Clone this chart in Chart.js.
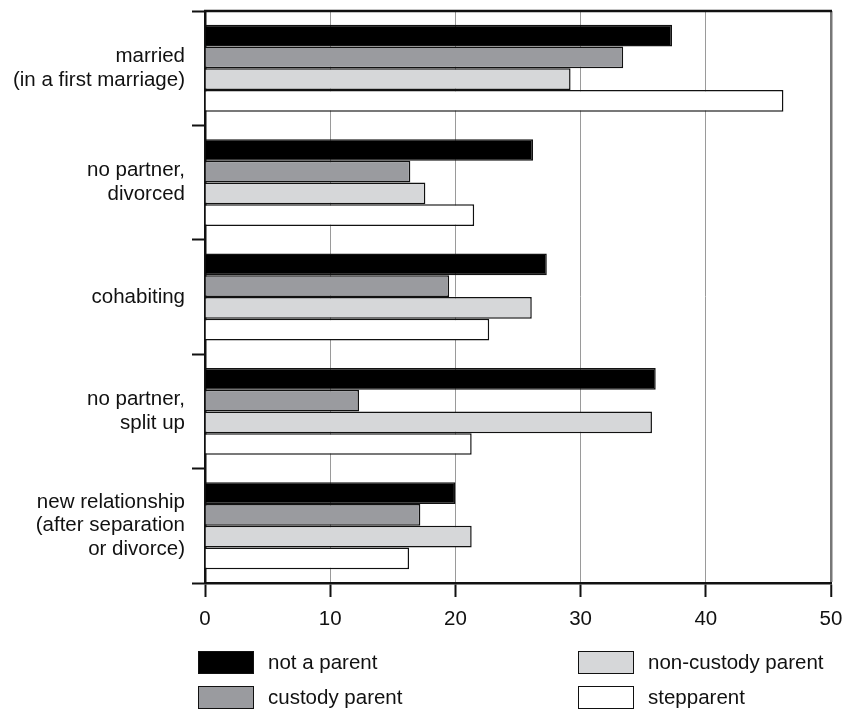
<!DOCTYPE html>
<html>
<head>
<meta charset="utf-8">
<script src="https://cdn.jsdelivr.net/npm/chart.js@4"></script>
<style>
  html, body { margin: 0; padding: 0; background: #fff; }
  #wrap { position: relative; width: 842px; height: 709px; }
  #legend { position: absolute; left: 0; top: 0; width: 842px; height: 709px; pointer-events: none;
            font-family: 'Liberation Sans', Arial, sans-serif; font-size: 20.5px; color: #111; }
  .item { position: absolute; display: flex; align-items: center; }
  .box { width: 54px; height: 21px; border: 1.5px solid #111; margin-right: 14px; }
</style>
</head>
<body>
<div id="wrap">
  <canvas id="c" width="842" height="709"></canvas>
  <div id="legend"></div>
</div>
<script>
const categories = [
  ["married", "(in a first marriage)"],
  ["no partner,", "divorced"],
  ["cohabiting"],
  ["no partner,", "split up"],
  ["new relationship", "(after separation", "or divorce)"]
];
const seriesNames = ["not a parent", "custody parent", "non-custody parent", "stepparent"];
const notAParent   = [37.3, 26.2, 27.3, 36.0, 20.0];
const custodyParent = [33.4, 16.4, 19.5, 12.3, 17.2];
const nonCustodyParent = [29.2, 17.6, 26.1, 35.7, 21.3];
const stepparent   = [46.2, 21.5, 22.7, 21.3, 16.3];
const xTicks = [0, 10, 20, 30, 40, 50];

const colors = ["#000000", "#9a9b9f", "#d6d7d9", "#ffffff"];
const values = [notAParent, custodyParent, nonCustodyParent, stepparent];

Chart.defaults.font.family = "'Liberation Sans', Arial, sans-serif";
Chart.defaults.font.size = 20.5;
Chart.defaults.color = "#111";

const frame = {
  id: 'frame',
  afterDatasetsDraw(chart) {
    const a = chart.chartArea, c = chart.ctx;
    c.save();
    c.strokeStyle = '#111';
    c.lineWidth = 2.5;
    c.beginPath();
    c.moveTo(a.left - 1, a.top);
    c.lineTo(a.right + 1, a.top);
    c.stroke();
    c.restore();
  }
};

new Chart(document.getElementById('c'), {
  type: 'bar',
  data: {
    labels: categories,
    datasets: seriesNames.map((n, i) => ({
      label: n,
      data: values[i],
      backgroundColor: colors[i],
      borderColor: '#111',
      borderWidth: 1.5,
      categoryPercentage: 0.76,
      barPercentage: 1.0
    }))
  },
  options: {
    indexAxis: 'y',
    responsive: false,
    animation: false,
    devicePixelRatio: 1,
    layout: { padding: { top: 11, right: 11, bottom: 76, left: 0 } },
    plugins: { legend: { display: false }, tooltip: { enabled: false } },
    scales: {
      x: {
        min: 0, max: 50,
        afterBuildTicks: (s) => { s.ticks = xTicks.map(v => ({ value: v })); },
        afterFit: (s) => { s.height = 50; s.paddingLeft = 0; s.paddingRight = 0; },
        border: { color: '#111', width: 2.5 },
        grid: {
          color: (ctx) => ctx.tick && ctx.tick.value === 50 ? '#777' : '#9a9a9a',
          lineWidth: (ctx) => ctx.tick && ctx.tick.value === 50 ? 2.5 : 1,
          tickColor: '#111',
          tickWidth: 2,
          tickLength: 14
        },
        ticks: { padding: 10, color: '#111' }
      },
      y: {
        afterFit: (s) => { s.width = 205; s.paddingTop = 0; s.paddingBottom = 0; },
        border: { color: '#111', width: 2.5 },
        grid: {
          drawOnChartArea: false,
          tickColor: '#111',
          tickWidth: 2,
          tickLength: 13
        },
        ticks: { padding: 7, color: '#111', font: { size: 20.5, lineHeight: 1.15 } }
      }
    }
  },
  plugins: [frame]
});

// legend (two columns, column-major)
const legend = document.getElementById('legend');
const pos = [[198, 650], [198, 685], [578, 650], [578, 685]];
seriesNames.forEach((n, i) => {
  const d = document.createElement('div');
  d.className = 'item';
  d.style.left = pos[i][0] + 'px';
  d.style.top = pos[i][1] + 'px';
  const b = document.createElement('div');
  b.className = 'box';
  b.style.background = colors[i];
  const t = document.createElement('span');
  t.textContent = n;
  d.appendChild(b); d.appendChild(t);
  legend.appendChild(d);
});
</script>
</body>
</html>
